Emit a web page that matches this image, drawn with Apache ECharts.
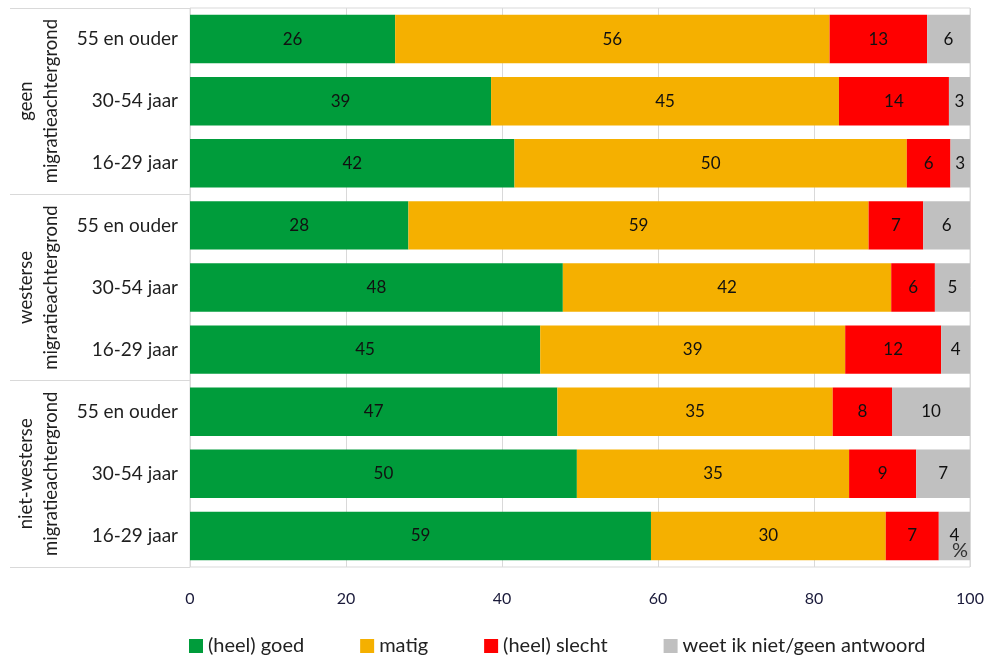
<!DOCTYPE html>
<html>
<head>
<meta charset="utf-8">
<script src="https://cdn.jsdelivr.net/npm/echarts@6/dist/echarts.min.js"></script>
<style>
html,body{margin:0;padding:0;background:#fff;}
#chart{width:989px;height:658px;}
</style>
</head>
<body>
<div id="chart"></div>
<script>
const ageLabels = ['55 en ouder','30-54 jaar','16-29 jaar','55 en ouder','30-54 jaar','16-29 jaar','55 en ouder','30-54 jaar','16-29 jaar'];
const groupLabels = ['geen\nmigratieachtergrond','westerse\nmigratieachtergrond','niet-westerse\nmigratieachtergrond'];
const seriesNames = ['(heel) goed','matig','(heel) slecht','weet ik niet/geen antwoord'];
const goed   = [26.3, 38.6, 41.6, 28.0, 47.8, 44.9, 47.1, 49.6, 59.1];
const matig  = [55.7, 44.6, 50.3, 59.0, 42.1, 39.1, 35.3, 34.9, 30.1];
const slecht = [12.5, 14.1, 5.6, 7.0, 5.6, 12.3, 7.6, 8.6, 6.8];
const weetNiet = [5.5, 2.7, 2.5, 6.0, 4.5, 3.7, 10.0, 6.9, 4.0];
const xTicks = [0, 20, 40, 60, 80, 100];
const unitLabel = '%';
const colors = ['#009C3B', '#F5B000', '#FF0000', '#C0C0C0'];

const fontFamily = 'Lato, "Open Sans", sans-serif';
const chart = echarts.init(document.getElementById('chart'), null, {renderer: 'canvas'});
const values = [goed, matig, slecht, weetNiet];

chart.setOption({
  animation: false,
  textStyle: {fontFamily: fontFamily},
  color: colors,
  grid: {left: 190, right: 19, top: 8, bottom: 91, show: true, borderColor: '#d9d9d9', borderWidth: 1, containLabel: false},
  legend: {
    data: seriesNames,
    left: 184, top: 631,
    icon: 'rect', itemWidth: 14, itemHeight: 14, itemGap: 56,
    textStyle: {fontSize: 20, color: '#222', fontFamily: fontFamily, padding: [0, 0, 0, 0]}
  },
  graphic: [{
    type: 'text', right: 21, top: 541, z: 100,
    style: {text: unitLabel, fontSize: 20, fill: '#333', fontFamily: fontFamily}
  }],
  xAxis: {
    type: 'value', min: xTicks[0], max: xTicks[xTicks.length - 1], interval: 20,
    axisLine: {show: false}, axisTick: {show: false},
    splitLine: {show: true, lineStyle: {color: '#d9d9d9', width: 1}},
    axisLabel: {margin: 24, fontSize: 16, color: '#1a1a3a'}
  },
  yAxis: [
    {
      type: 'category', data: ageLabels, inverse: true,
      axisLine: {show: false}, axisTick: {show: false},
      axisLabel: {interval: 0, margin: 12, fontSize: 19, color: '#1f1f1f'}
    },
    {
      type: 'category', data: groupLabels, inverse: true, position: 'left',
      axisLine: {show: false},
      axisTick: {show: true, interval: 0, length: 180, lineStyle: {color: '#d9d9d9', width: 1}},
      axisLabel: {interval: 0, rotate: 90, margin: 126, fontSize: 18.5, lineHeight: 25, color: '#1f1f1f', hideOverlap: false}
    }
  ],
  series: seriesNames.map((name, i) => ({
    name: name, type: 'bar', stack: 'total', yAxisIndex: 0,
    barCategoryGap: '22%',
    data: values[i],
    itemStyle: {color: colors[i]},
    label: {
      show: true, position: 'inside', fontSize: 17, color: '#111',
      formatter: p => Math.round(p.value)
    }
  }))
});
</script>
</body>
</html>
